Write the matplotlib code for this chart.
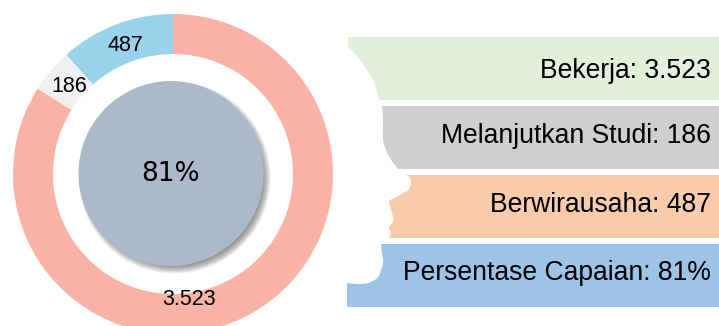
import matplotlib
matplotlib.use("Agg")
import matplotlib.pyplot as plt
from matplotlib.patches import Circle, PathPatch
from matplotlib.path import Path

plt.rcParams['font.family'] = ['Liberation Sans', 'DejaVu Sans']

# Data
categories = ["Bekerja", "Melanjutkan Studi", "Berwirausaha"]
values = [3523, 186, 487]
percent_label = "Persentase Capaian"
percent_value = 81

ring_colors = ["#F8B3A6", "#F0F0F0", "#99D3EB"]
band_colors = ["#E2EFDA", "#D0CECE", "#F8CBAD", "#9DC3E6"]

H = 326
def fmt(v):
    return f"{v:,}".replace(",", ".")

def smooth(pts):
    """Catmull-Rom through the outline points, as cubic Bezier segments."""
    verts, codes = [pts[0]], []
    n = len(pts)
    for i in range(n - 1):
        p0 = pts[max(i - 1, 0)]
        p1, p2 = pts[i], pts[i + 1]
        p3 = pts[min(i + 2, n - 1)]
        c1 = (p1[0] + (p2[0] - p0[0]) / 6, p1[1] + (p2[1] - p0[1]) / 6)
        c2 = (p2[0] - (p3[0] - p1[0]) / 6, p2[1] - (p3[1] - p1[1]) / 6)
        verts += [c1, c2, p2]
    return verts

fig = plt.figure(figsize=(7.19, 3.26), dpi=100)
ax = fig.add_axes([0, 0, 1, 1])

ax.pie(values, center=(173, H - 174), radius=160, startangle=90, counterclock=False,
       colors=ring_colors, wedgeprops=dict(width=40, linewidth=0))
ax.set_xlim(0, 719)
ax.set_ylim(0, H)
ax.set_aspect("auto")
ax.axis("off")

# centre disc with soft shadow
for i in range(14):
    ax.add_patch(Circle((174.5, H - 177.5), 96 - i * 0.8, fc="#444444", ec="none", alpha=0.07, zorder=2))
ax.add_patch(Circle((171, H - 173.5), 92.5, fc="#ADB9CA", ec="none", zorder=3))
ax.text(171, H - 174, f"{percent_value}%", ha="center", va="center", fontsize=19,
        family="DejaVu Sans", color="black", zorder=4)

# ring labels
ring_label_pos = [(189, 299.5), (69, 86), (125, 45.5)]
for v, (x, y) in zip(values, ring_label_pos):
    ax.text(x, H - y, fmt(v), ha="center", va="center", fontsize=15.5, color="black", zorder=4)

# silhouette-cut bands: smooth left edge, straight right side
band_edges = [
    [(348, 47), (357, 56), (365, 67), (373, 80), (377, 92), (379, 100)],
    [(382, 106), (383, 118), (383, 130), (383, 140), (386, 150), (390, 158), (398, 169)],
    [(406, 175), (410, 178), (411, 184), (408, 190), (400, 195), (392, 199), (389, 202), (391, 209),
     (393, 217), (393, 222), (389, 227), (391, 233), (389, 238)],
    [(381, 244), (382, 254), (383, 263), (378, 277), (368, 283), (357, 284), (347, 283)],
]
band_tops = [37, 106, 175, 244]
band_bottoms = [100, 169, 238, 307]
band_left = [348, 382, 406, 347]
for edge, c, top, bot, left in zip(band_edges, band_colors, band_tops, band_bottoms, band_left):
    curve = smooth(edge)
    verts = [(719, top), (left, top), edge[0]] + curve[1:]
    codes = [Path.MOVETO, Path.LINETO, Path.LINETO] + [Path.CURVE4] * (len(curve) - 1)
    verts += [(edge[-1][0], bot), (719, bot), (719, top)]
    codes += [Path.LINETO, Path.LINETO, Path.CLOSEPOLY]
    verts = [(x, H - y) for x, y in verts]
    ax.add_patch(PathPatch(Path(verts, codes), fc=c, ec="none", zorder=1))

band_labels = [f"{c}: {fmt(v)}" for c, v in zip(categories, values)]
band_labels.append(f"{percent_label}: {percent_value}%")
band_y = [71, 136, 205, 273]
for lab, y in zip(band_labels, band_y):
    ax.text(711, H - y, lab, ha="right", va="center", fontsize=19.1, color="black", zorder=4)

fig.savefig("out.png", dpi=100)
